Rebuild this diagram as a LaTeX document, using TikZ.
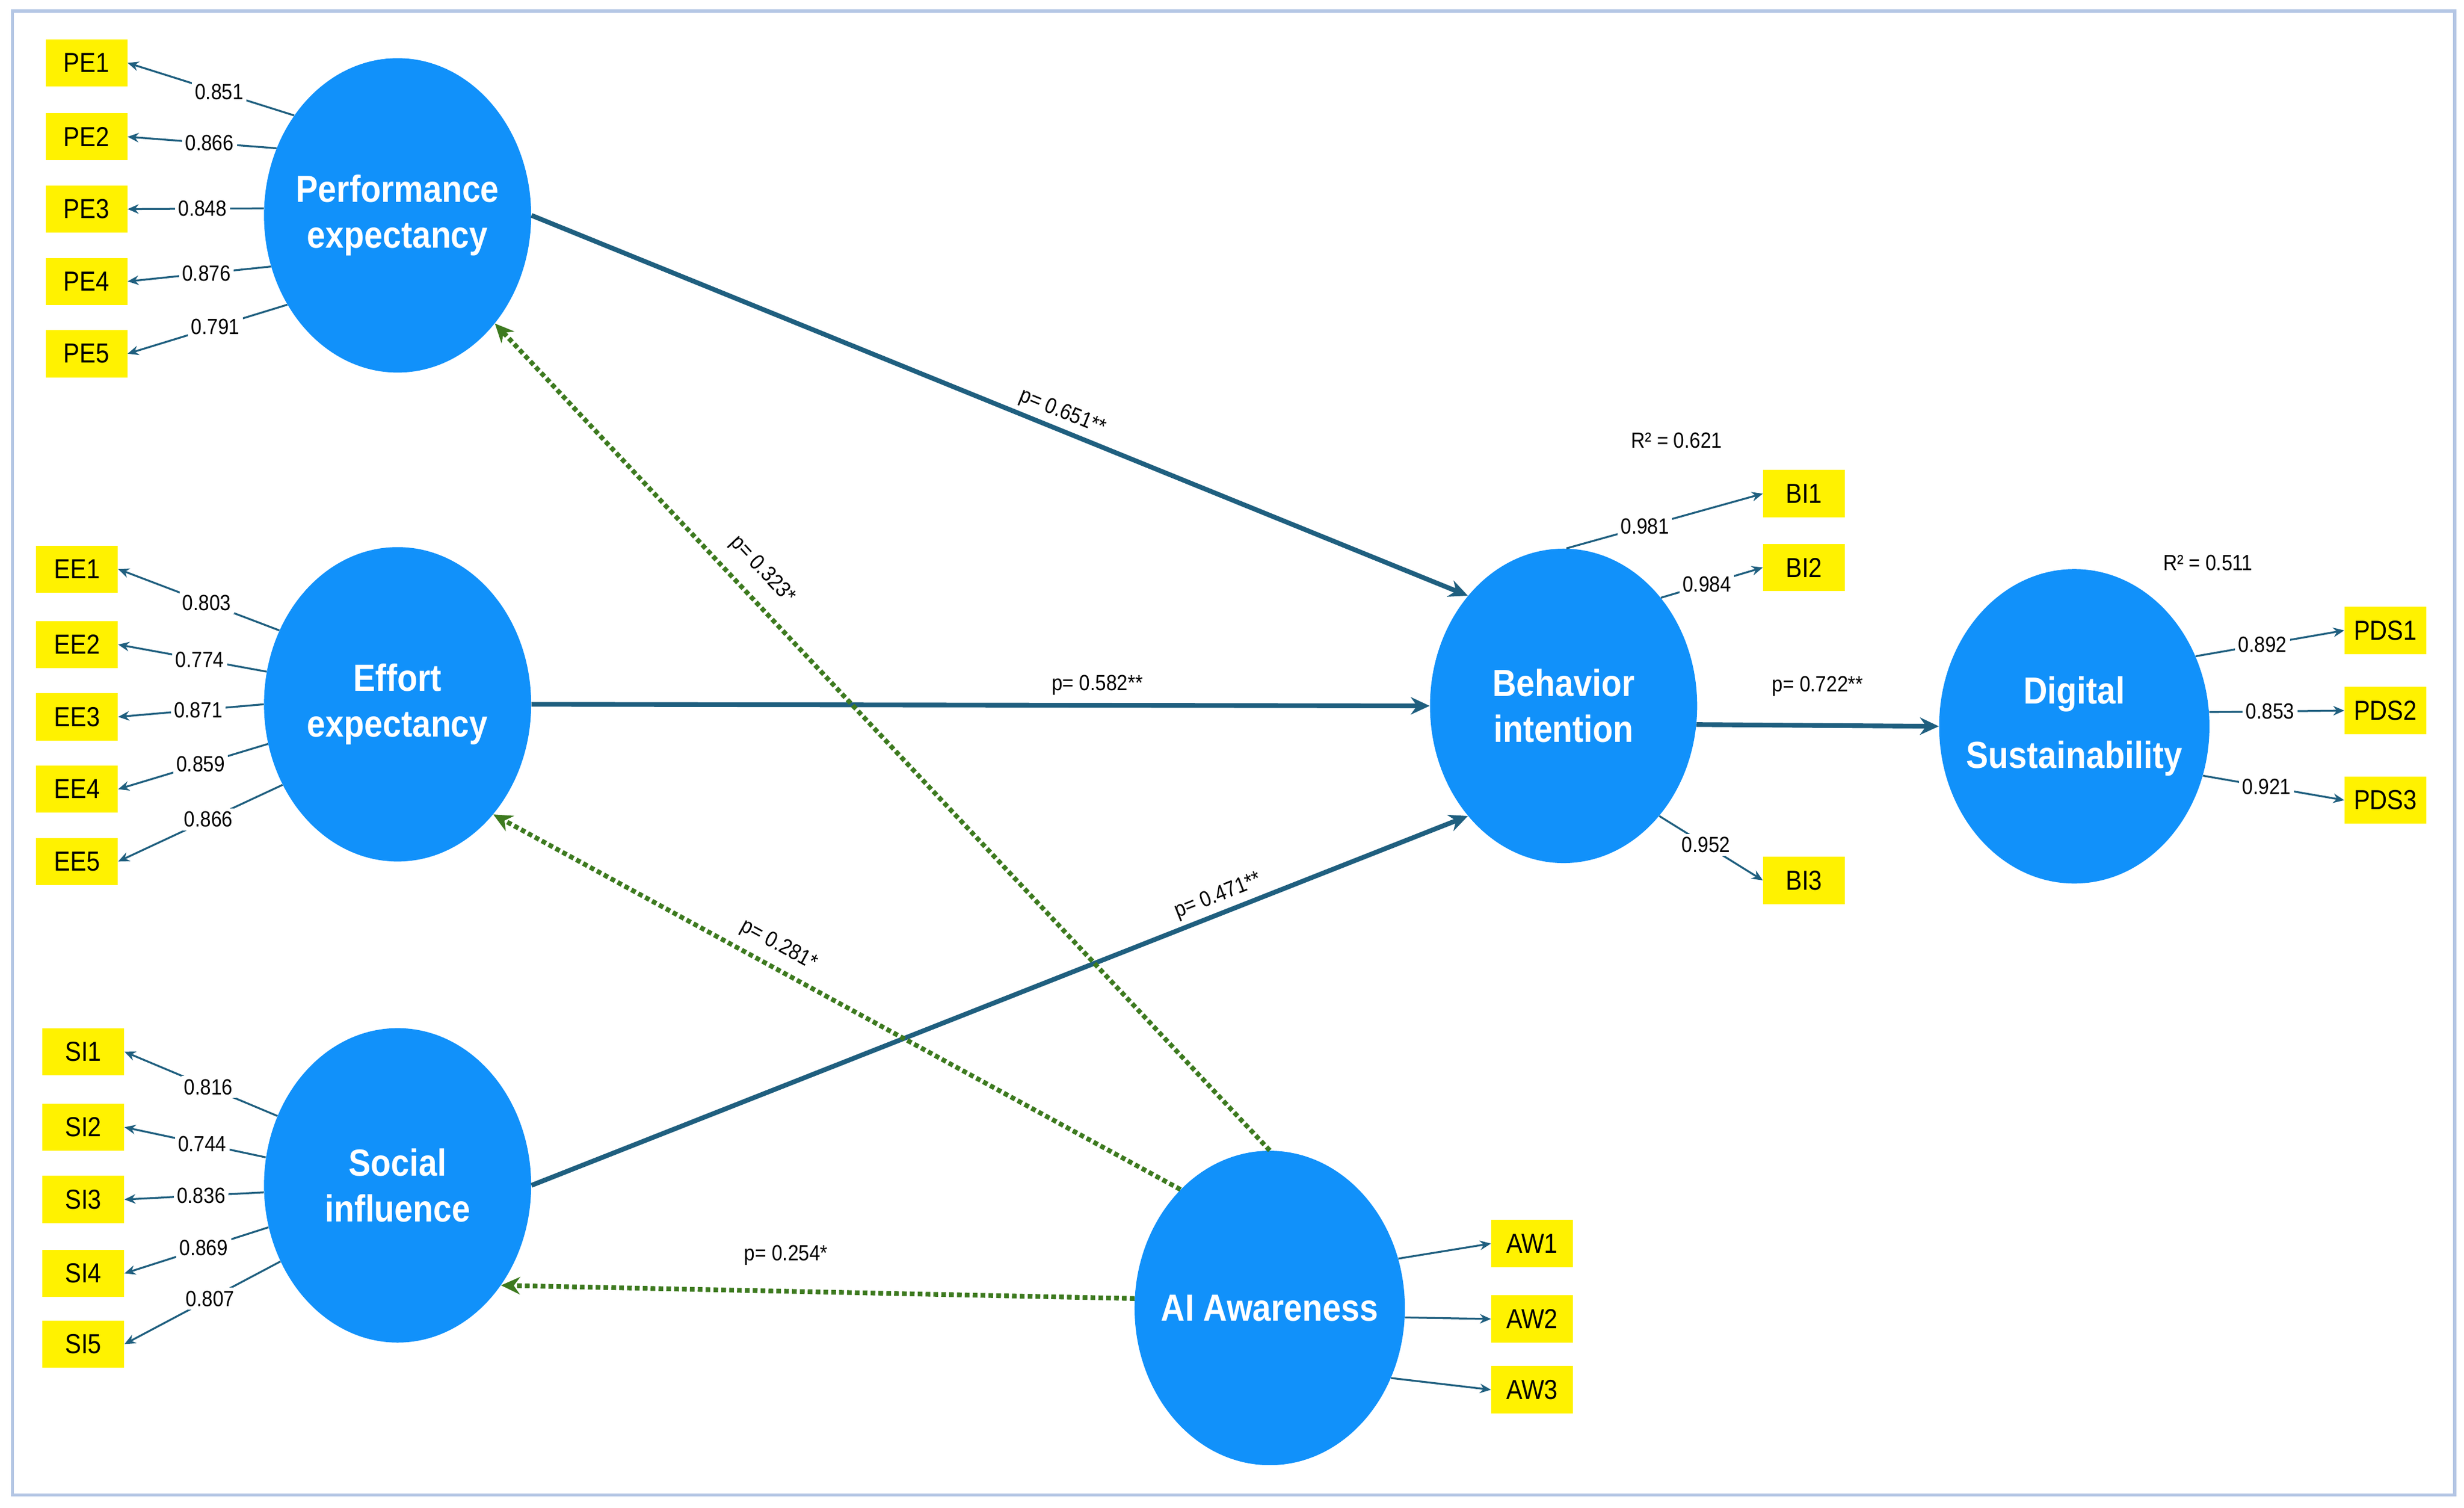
\documentclass[tikz,border=0pt]{standalone}
\usepackage{fontspec}
\setmainfont{Liberation Sans}[FakeStretch=0.88]
\usetikzlibrary{shapes.geometric,arrows.meta}
\definecolor{lv}{HTML}{1191FA}
\definecolor{teal}{HTML}{1F5F7F}
\definecolor{grn}{HTML}{3D7A1F}
\definecolor{frm}{HTML}{B4C6E4}
\tikzset{
 lv/.style={ellipse,fill=lv,minimum width=170pt,minimum height=200pt,inner sep=-30pt,text=white,align=center,font=\fontsize{24}{29}\selectfont\bfseries},
 ind/.style={rectangle,fill=yellow,minimum width=52pt,minimum height=30pt,inner sep=0pt,font=\fontsize{17.5}{19}\selectfont},
 ld/.style={draw=teal,line width=1.2pt,-{Stealth[length=7pt,width=6pt]}},
 lab/.style={fill=white,inner sep=2pt,font=\fontsize{14}{16}\selectfont},
 path/.style={draw=teal,line width=3pt,-{Stealth[length=12pt,width=11pt]}},
 gp/.style={draw=grn,line width=3pt,dotted,-{Stealth[length=12pt,width=11pt]}},
 pl/.style={font=\fontsize{14}{16}\selectfont,inner sep=1pt}
}
\begin{document}
\begin{tikzpicture}[x=1pt,y=-1pt]
\useasboundingbox (0,0) rectangle (1568,959.2);
\draw[frm,line width=2pt] (8,7) rectangle (1562,951);
\node[lv] (pe) at (253,137) {Performance\\expectancy};
\node[lv] (ee) at (253,448) {Effort\\expectancy};
\node[lv] (si) at (253,754) {Social\\influence};
\node[lv] (bi) at (995,449) {Behavior\\intention};
\node[lv,minimum width=172pt] (ds) at (1320,462) {Digital\\[12pt]Sustainability};
\node[lv,minimum width=172pt] (aw) at (808,832) {AI Awareness};
% indicators
\foreach \n/\y in {1/40,2/87,3/133,4/179,5/225}{\node[ind] (pe\n) at (55,\y) {PE\n};}
\foreach \n/\y in {1/362,2/410,3/456,4/502,5/548}{\node[ind] (ee\n) at (49,\y) {EE\n};}
\foreach \n/\y in {1/669,2/717,3/763,4/810,5/855}{\node[ind] (si\n) at (53,\y) {SI\n};}
\foreach \n/\y in {1/314,2/361,3/560}{\node[ind] (bi\n) at (1148,\y) {BI\n};}
\foreach \n/\y in {1/401,2/452,3/509}{\node[ind] (pds\n) at (1518,\y) {PDS\n};}
\foreach \n/\y in {1/791,2/839,3/884}{\node[ind] (aw\n) at (975,\y) {AW\n};}
% loadings
\foreach \n/\a/\v in {1/136/0.851,2/151/0.866,3/177/0.848,4/202/0.876,5/219/0.791}{
 \draw[ld] (pe.\a) -- node[lab,pos=0.45]{\v} (pe\n.east);}
\foreach \n/\a/\v in {1/148/0.803,2/166/0.774,3/180/0.871,4/197/0.859,5/215/0.866}{
 \draw[ld] (ee.\a) -- node[lab,pos=0.45]{\v} (ee\n.east);}
\foreach \n/\a/\v in {1/150/0.816,2/168/0.744,3/183/0.836,4/198/0.869,5/213/0.807}{
 \draw[ld] (si.\a) -- node[lab,pos=0.45]{\v} (si\n.east);}
\draw[ld] (bi.89) -- node[lab,pos=0.4]{0.981} (bi1.west);
\draw[ld] (bi.48) -- node[lab,pos=0.45]{0.984} (bi2.west);
\draw[ld] (bi.-49) -- node[lab,pos=0.45]{0.952} (bi3.west);
\draw[ld] (ds.30) -- node[lab,pos=0.45]{0.892} (pds1.west);
\draw[ld] (ds.6) -- node[lab,pos=0.45]{0.853} (pds2.west);
\draw[ld] (ds.-21) -- node[lab,pos=0.45]{0.921} (pds3.west);
\draw[ld] (aw.21) -- (aw1.west);
\draw[ld] (aw.-4) -- (aw2.west);
\draw[ld] (aw.-30) -- (aw3.west);
% structural paths
\draw[path] (pe.east) -- node[pl,sloped,above=2pt,pos=0.56]{p= 0.651**} (bi.131);
\draw[path] (ee.east) -- node[pl,above=4pt,pos=0.63]{p= 0.582**} (bi.west);
\draw[path] (si.east) -- node[pl,sloped,above=2pt,pos=0.74]{p= 0.471**} (bi.229);
\draw[path] (bi.-8) -- node[pl,above=16pt]{p= 0.722**} (ds.west);
\draw[gp] (aw.north) -- node[pl,sloped,above=8pt,pos=0.68]{p= 0.323*} (pe.-48);
\draw[gp] (aw.127) -- node[pl,sloped,above=5pt,pos=0.6]{p= 0.281*} (ee.-49);
\draw[gp] (aw.176) -- node[pl,above=14pt,pos=0.55]{p= 0.254*} (si.-44);
\node[pl] (r1) at (1067,280) {R² = 0.621};
\node[pl] (r2) at (1405,358) {R² = 0.511};
\end{tikzpicture}
\end{document}
